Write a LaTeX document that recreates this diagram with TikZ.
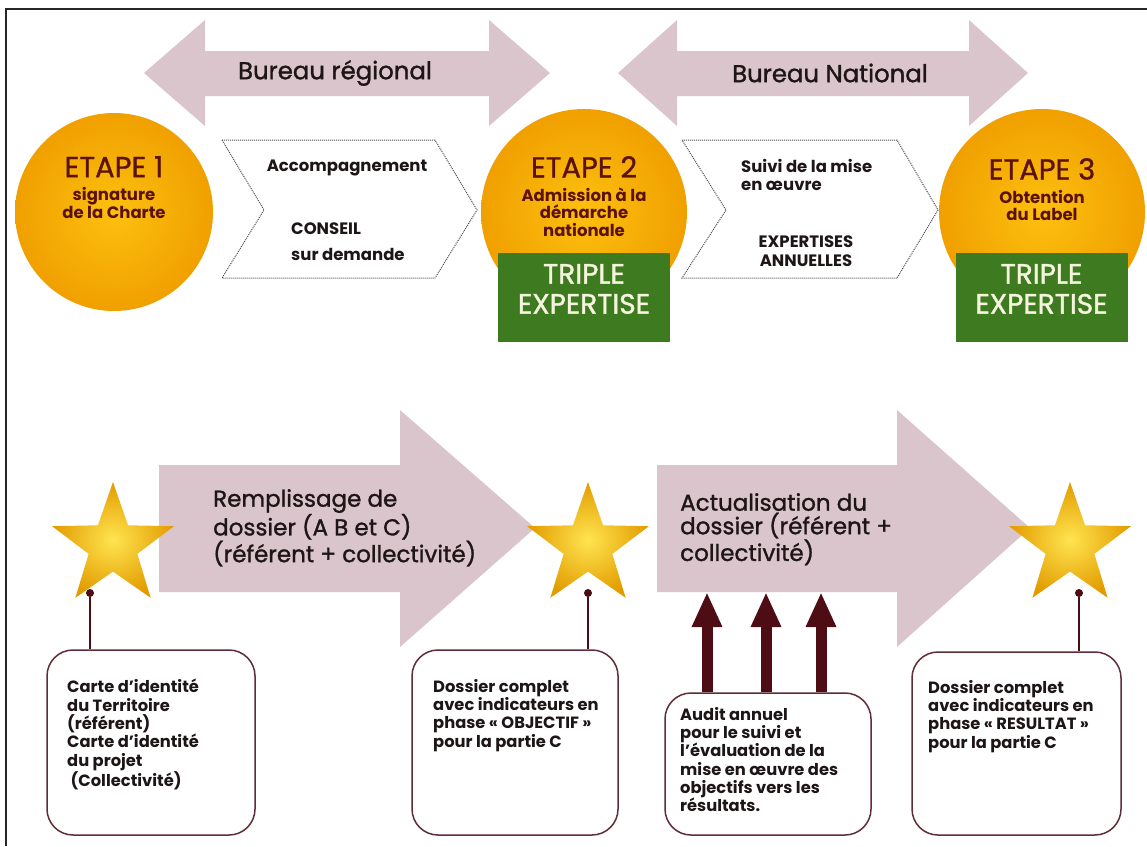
\documentclass[tikz,border=0pt]{standalone}
\usepackage{fontspec}
\setmainfont{Poppins}
\newfontfamily\mediumfont{Poppins}[FakeBold=1.3]
\newfontfamily\titlefont{Poppins}[FakeBold=0.9]
\usetikzlibrary{shapes.geometric,arrows.meta}
\definecolor{mauve}{RGB}{218,197,205}
\definecolor{maroon}{RGB}{78,12,20}
\definecolor{boxline}{RGB}{95,45,55}
\definecolor{leaf}{RGB}{62,122,32}
\definecolor{cream}{RGB}{245,245,222}
\definecolor{etape}{RGB}{92,18,10}
\definecolor{goldA}{RGB}{253,192,15}
\definecolor{goldB}{RGB}{240,160,0}
\definecolor{starA}{RGB}{255,228,80}
\definecolor{starB}{RGB}{226,156,0}
\definecolor{ink}{RGB}{30,22,22}
\tikzset{
  band/.style={fill=mauve, draw=none},
  bigtext/.style={text=ink, inner sep=0, font=\mediumfont\fontsize{24.4}{28}\selectfont},
  disc/.style={circle, inner sep=0, shading=radial, inner color=goldA, outer color=goldB},
  greenbox/.style={fill=leaf, draw=none, minimum width=172pt, minimum height=89pt, inner sep=0},
  tripletext/.style={text=cream, align=center, inner sep=0, font=\mediumfont\fontsize{28}{30}\selectfont},
  etapetext/.style={text=etape, align=center, inner sep=0, anchor=north, font=\fontsize{16.5}{17.5}\selectfont\bfseries},
  chev/.style={draw=black!70, densely dotted, line width=1pt},
  chevtext/.style={text=ink, inner sep=0, font=\fontsize{16.5}{19}\selectfont\bfseries},
  starnode/.style={star, star points=5, star point ratio=2.5, minimum size=128pt, inner sep=0, shading=radial, inner color=starA, outer color=starB},
  pinline/.style={draw=maroon, line width=1.6pt},
  pindot/.style={circle, fill=maroon, minimum size=8pt, inner sep=0},
  infobox/.style={draw=boxline, line width=1.5pt, rounded corners=26pt, inner sep=0},
  boxtext/.style={text=ink, anchor=north west, align=left, inner sep=0, font=\fontsize{16.3}{18.3}\selectfont\bfseries},
  arrowtext/.style={text=ink, anchor=north west, align=left, inner sep=0, font=\mediumfont\fontsize{23}{23.5}\selectfont},
  uparrow/.style={draw=maroon, line width=11pt, -{Triangle[width=28pt,length=35pt]}}
}
\newcommand{\etapetitle}[1]{{\titlefont\mdseries\fontsize{29}{29}\selectfont #1}}
\begin{document}
\begin{tikzpicture}[x=1pt,y=-1pt]
\useasboundingbox (0,0) rectangle (1147,846);
\fill[white] (0,0) rectangle (1147,846);
\draw[line width=2pt, black!85] (6,846) -- (6,9) -- (1147,9);

% top double arrows
\fill[band] (144,73) -- (205,20) -- (205,51) -- (489,51) -- (489,20) -- (550,73) -- (489,126) -- (489,96) -- (205,96) -- (205,126) -- cycle;
\node[bigtext] (br) at (335,73) {Bureau régional};
\fill[band] (618,73) -- (677,20) -- (677,51) -- (969,51) -- (969,20) -- (1028,73) -- (969,126) -- (969,96) -- (677,96) -- (677,126) -- cycle;
\node[bigtext] (bn) at (830,73) {Bureau National};

% chevrons
\draw[chev] (222,140) -- (435,140) -- (477,210) -- (435,278) -- (222,278) -- (264,210) -- cycle;
\node[chevtext] (acc) at (347,168) {Accompagnement};
\node[chevtext, anchor=north west, align=left] (cons) at (291,223) {CONSEIL\\[7pt]sur demande};
\draw[chev] (682,140) -- (897,140) -- (938,210) -- (897,278) -- (682,278) -- (726,210) -- cycle;
\node[chevtext, anchor=north west, align=left, font=\fontsize{16.5}{18}\selectfont\bfseries] (suivi) at (741,159) {Suivi de la mise\\en œuvre};
\node[chevtext, align=center, anchor=north, font=\fontsize{16.5}{19}\selectfont\bfseries] (exa) at (806,236) {EXPERTISES\\ANNUELLES};

% circles
\node[disc, minimum size=198pt] (e1) at (114,212) {};
\node[disc, minimum size=206pt] (e2) at (584,212) {};
\node[disc, minimum size=206pt] (e3) at (1042,212) {};
\node[greenbox] (g2) at (584,297.5) {};
\node[greenbox] (g3) at (1041.5,297.5) {};
\node[tripletext] (t2) at (584,289) {TRIPLE\\EXPERTISE};
\node[tripletext] (t3) at (1041.5,289) {TRIPLE\\EXPERTISE};
\node[etapetext] (l1) at (114,156) {\etapetitle{ETAPE 1}\\[6pt]signature\\de la Charte};
\node[etapetext] (l2) at (584,156) {\etapetitle{ETAPE 2}\\[6pt]Admission à la\\démarche\\nationale};
\node[etapetext] (l3) at (1042,158) {\etapetitle{ETAPE 3}\\[6pt]Obtention\\du Label};

% bottom arrows
\fill[band] (159,465) -- (400,465) -- (400,410) -- (535,528) -- (400,647) -- (400,592) -- (159,592) -- cycle;
\node[arrowtext] (a1) at (213,489) {Remplissage de\\dossier (A B et C)\\(référent + collectivité)};
\fill[band] (657,465) -- (897,465) -- (897,410) -- (1030,528) -- (897,647) -- (897,592) -- (657,592) -- cycle;
\node[arrowtext] (a2) at (680,493) {Actualisation du\\dossier (référent +\\collectivité)};

% stars
\node[starnode] (s1) at (113,546) {};
\node[starnode] (s2) at (588,546) {};
\node[starnode] (s3) at (1070,546) {};

% boxes
\node[infobox, minimum width=208pt, minimum height=185pt] (b1) at (151,742.5) {};
\node[infobox, minimum width=206pt, minimum height=185pt] (b2) at (515,742.5) {};
\node[infobox, minimum width=206pt, minimum height=142pt] (b3) at (768,764) {};
\node[infobox, minimum width=209pt, minimum height=183pt] (b4) at (1016.5,743.5) {};

\node[boxtext] (x1) at (67,679) {Carte d’identité\\du Territoire\\(référent)\\Carte d’identité\\du projet\\\ (Collectivité)};
\node[boxtext] (x2) at (433,679) {Dossier complet\\avec indicateurs en\\phase « OBJECTIF »\\pour la partie C};
\node[boxtext] (x3) at (680,707) {Audit annuel\\pour le suivi et\\l’évaluation de la\\mise en œuvre des\\objectifs vers les\\résultats.};
\node[boxtext] (x4) at (928,680) {Dossier complet\\avec indicateurs en\\phase « RESULTAT »\\pour la partie C};

% pins
\node[pindot] (p1) at (90,593) {};
\node[pindot] (p2) at (588,593) {};
\node[pindot] (p3) at (1079,593) {};
\draw[pinline] (p1) -- (p1 |- b1.north);
\draw[pinline] (p2) -- (p2 |- b2.north);
\draw[pinline] (p3) -- (p3 |- b4.north);

% up arrows
\coordinate (u1) at (707,592);
\coordinate (u2) at (766,592);
\coordinate (u3) at (821,592);
\draw[uparrow] (u1 |- b3.north) -- (u1);
\draw[uparrow] (u2 |- b3.north) -- (u2);
\draw[uparrow] (u3 |- b3.north) -- (u3);
\end{tikzpicture}
\end{document}
